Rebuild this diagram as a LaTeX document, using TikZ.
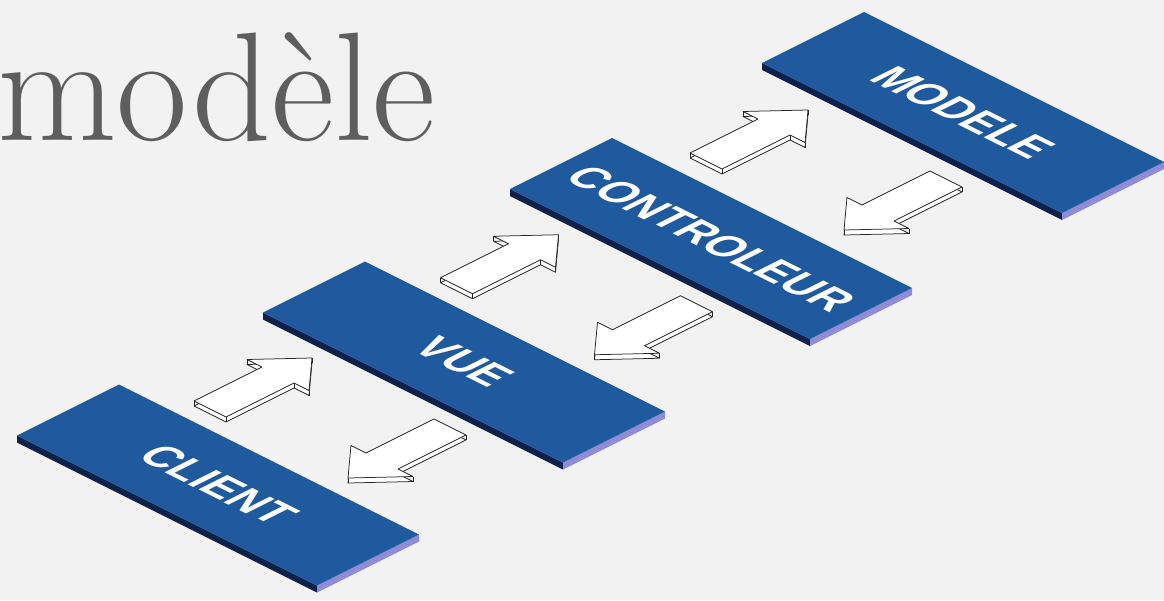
\documentclass[tikz,border=0pt]{standalone}
\usepackage{fontspec}
\newfontfamily\slabfont{Liberation Sans}
\definecolor{paper}{RGB}{242,242,242}
\definecolor{titlegray}{RGB}{94,94,94}
\definecolor{slabtop}{RGB}{31,89,158}
\definecolor{slabfront}{RGB}{12,34,76}
\definecolor{slabside}{RGB}{142,140,214}

% flat 3d arrow: axis u, tail v, direction (1 up, -1 down)
\newcommand{\blockarrow}[3]{%
  \begin{scope}[shift={(#1,#2)},yscale=#3]
    \foreach \x/\y [count=\i] in {-8/0,8/0,8/34,15.5/34,0/51,-15.5/34,-8/34}
      \coordinate (t\i) at (\x,\y);
  \end{scope}
  \foreach \i in {1,...,7}
    \path (t\i) ++(2.5,-2.5) coordinate (b\i);
  \draw[arrowline] (b1)--(b2)--(b3)--(b4)--(b5)--(b6)--(b7)--cycle;
  \foreach \i in {1,...,7}
    \draw[arrowline] (b\i)--(t\i);
  \draw[arrowline] (t1)--(t2)--(t3)--(t4)--(t5)--(t6)--(t7)--cycle;
}

\begin{document}
\begin{tikzpicture}[x=1pt,y=1pt,line join=round,
    arrowline/.style={draw=black!85,line width=0.75pt,fill=white},
    slabtext/.style={transform shape,inner sep=0,text=white,yscale=1.1,
      font=\slabfont\bfseries\fontsize{19}{19}\selectfont}]
  \fill[paper] (0,0) rectangle (1164,-600);
  \useasboundingbox (0,0) rectangle (1164,-600);

  \node[anchor=base west,inner sep=0,text=titlegray,
    font=\fontsize{155}{160}\selectfont] (title) at (-3,-140) {modèle};

  % isometric plane: u runs down-right, v runs up-right
  \begin{scope}[cm={2,-1,2,1,(0,0)}]
    \foreach \v/\nm/\txt in {-213.5/client/CLIENT,-90.5/vue/VUE,
        33/ctrl/CONTROLEUR,159/modele/MODELE}{
      \fill[slabfront] (222,\v)--(372,\v)--(375.5,\v-3.5)--(225.5,\v-3.5)--cycle;
      \fill[slabside] (372,\v)--(372,\v+51)--(375.5,\v+47.5)--(375.5,\v-3.5)--cycle;
      \fill[slabtop] (222,\v) rectangle (372,\v+51);
      \node[slabtext] (\nm) at (297,\v+25.5) {\txt};
    }
    \foreach \c in {-126.5,-3.25,121.5}{
      \blockarrow{257}{\c-25.5}{1}
      \blockarrow{326}{\c+25.5}{-1}
    }
  \end{scope}
\end{tikzpicture}
\end{document}
